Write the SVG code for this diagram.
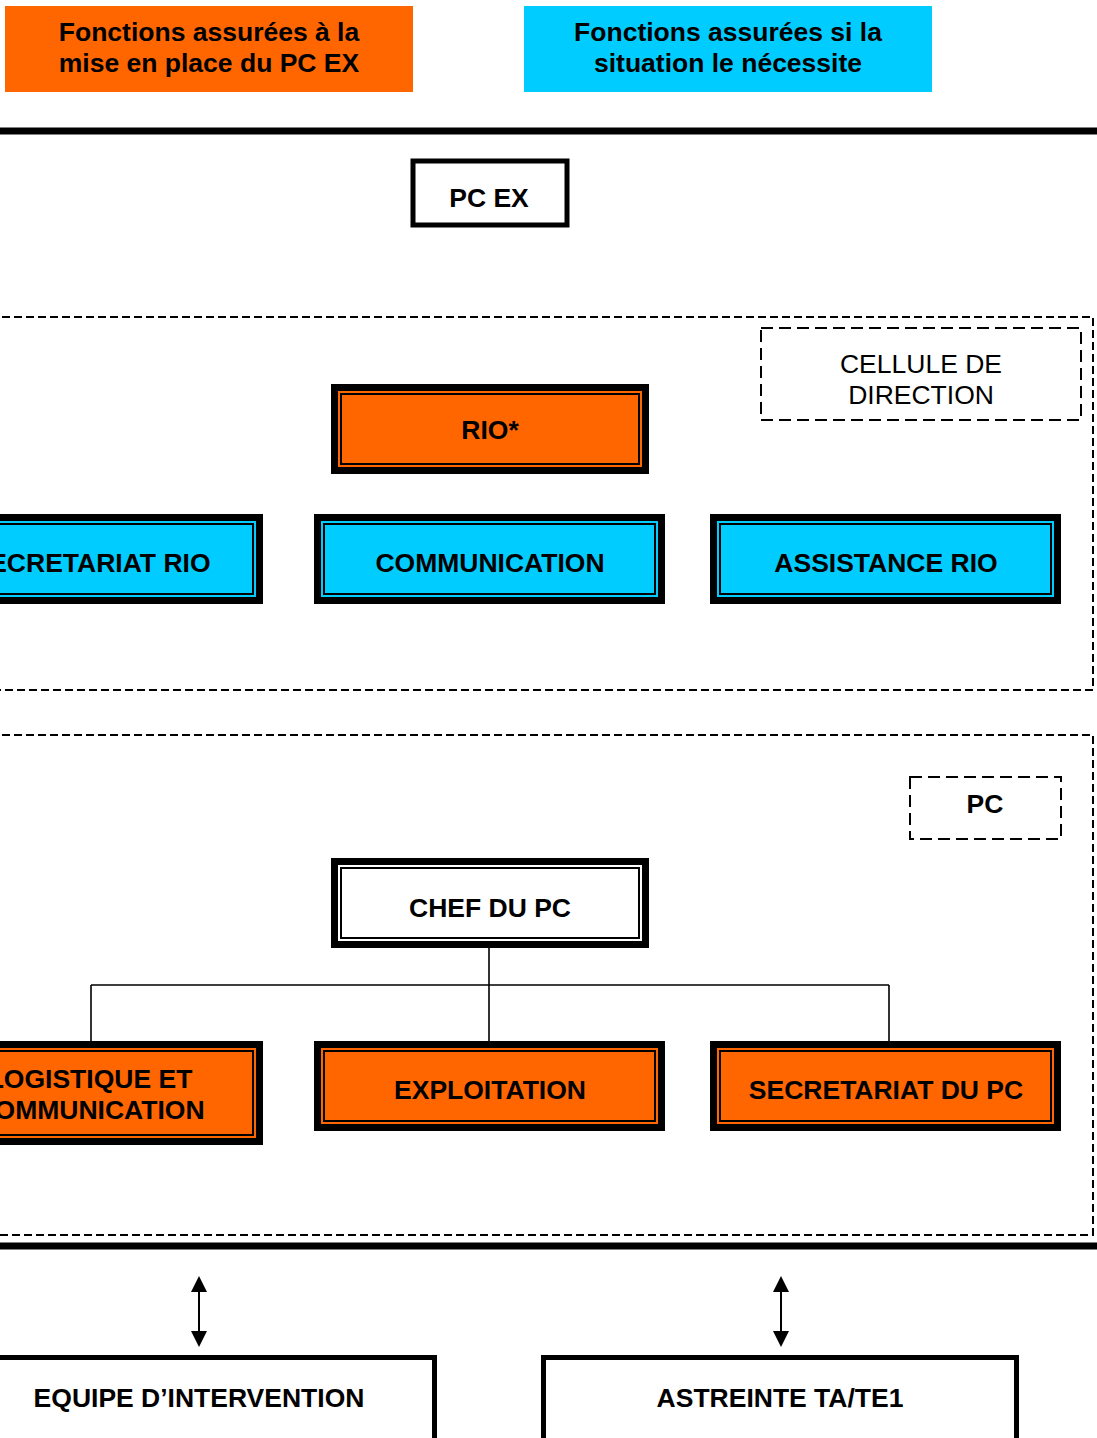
<svg xmlns="http://www.w3.org/2000/svg" width="1097" height="1438" viewBox="0 0 1097 1438">
<style>
text{font-family:"Liberation Sans",Arial,sans-serif;font-size:26.5px;fill:#000;text-anchor:middle}
.b{font-weight:bold}
.outer{stroke:#000;stroke-width:7}
.inner{fill:none;stroke:#000;stroke-width:2}
.org{fill:#FF6600}
.blu{fill:#00CCFF}
.wht{fill:#fff}
.dash{fill:none;stroke:#000;stroke-width:2;stroke-dasharray:8,4}
.dash2{fill:none;stroke:#000;stroke-width:2;stroke-dasharray:12,6}
.conn{fill:none;stroke:#000;stroke-width:1.6}
</style>
<defs>
<marker id="ah" viewBox="0 0 16 16" refX="0" refY="8" markerWidth="16" markerHeight="16" markerUnits="userSpaceOnUse" orient="auto-start-reverse">
<path d="M0,0 L16,8 L0,16 z" fill="#000"/>
</marker>
</defs>
<rect width="1097" height="1438" fill="#fff"/>

<g id="legend-orange">
<rect x="5" y="6" width="408" height="86" class="org"/>
<text x="209" y="41" class="b">Fonctions assurées à la</text>
<text x="209" y="72" class="b">mise en place du PC EX</text>
</g>
<g id="legend-blue">
<rect x="524" y="6" width="408" height="86" class="blu"/>
<text x="728" y="41" class="b">Fonctions assurées si la</text>
<text x="728" y="72" class="b">situation le nécessite</text>
</g>

<rect x="0" y="127.5" width="1097" height="7" fill="#000"/>
<rect x="0" y="1242.5" width="1097" height="7" fill="#000"/>

<g id="pcex">
<rect x="413" y="161" width="154" height="64" fill="#fff" stroke="#000" stroke-width="5"/>
<text x="489" y="207" class="b">PC EX</text>
</g>

<g id="region-direction">
<rect x="-10" y="317" width="1103" height="373" class="dash"/>
</g>
<g id="cellule">
<rect x="761" y="328" width="320" height="92" class="dash2"/>
<text x="921" y="373">CELLULE DE</text>
<text x="921" y="404">DIRECTION</text>
</g>

<g id="rio">
<rect x="334.5" y="387.5" width="311" height="83" class="outer org"/>
<rect x="341" y="394" width="298" height="70" class="inner"/>
<text x="490" y="439" class="b">RIO*</text>
</g>
<g id="secretariat-rio">
<rect x="-84.5" y="517.5" width="344" height="83" class="outer blu"/>
<rect x="-78" y="524" width="331" height="70" class="inner"/>
<text x="91" y="572" class="b">SECRETARIAT RIO</text>
</g>
<g id="communication">
<rect x="317.5" y="517.5" width="344" height="83" class="outer blu"/>
<rect x="324" y="524" width="331" height="70" class="inner"/>
<text x="490" y="572" class="b">COMMUNICATION</text>
</g>
<g id="assistance-rio">
<rect x="713.5" y="517.5" width="344" height="83" class="outer blu"/>
<rect x="720" y="524" width="331" height="70" class="inner"/>
<text x="886" y="572" class="b">ASSISTANCE RIO</text>
</g>

<g id="region-pc">
<rect x="-10" y="735" width="1103" height="500" class="dash"/>
</g>
<g id="pc-label">
<rect x="910" y="777" width="151" height="62" class="dash2"/>
<text x="985" y="813" class="b">PC</text>
</g>

<g id="connectors">
<path d="M489,948 V985 M91,985 H889 M91,985 V1041 M489,985 V1041 M889,985 V1041" class="conn"/>
<line x1="199" y1="1292" x2="199" y2="1331" stroke="#000" stroke-width="2" marker-start="url(#ah)" marker-end="url(#ah)"/>
<line x1="781" y1="1292" x2="781" y2="1331" stroke="#000" stroke-width="2" marker-start="url(#ah)" marker-end="url(#ah)"/>
</g>

<g id="chef-pc">
<rect x="334.5" y="861.5" width="311" height="83" class="outer wht"/>
<rect x="341" y="868" width="298" height="70" class="inner"/>
<text x="490" y="917" class="b">CHEF DU PC</text>
</g>
<g id="logistique">
<rect x="-84.5" y="1044.5" width="344" height="97" class="outer org"/>
<rect x="-78" y="1051" width="331" height="84" class="inner"/>
<text x="90" y="1088" class="b">LOGISTIQUE ET</text>
<text x="90" y="1119" class="b">COMMUNICATION</text>
</g>
<g id="exploitation">
<rect x="317.5" y="1044.5" width="344" height="83" class="outer org"/>
<rect x="324" y="1051" width="331" height="70" class="inner"/>
<text x="490" y="1099" class="b">EXPLOITATION</text>
</g>
<g id="secretariat-pc">
<rect x="713.5" y="1044.5" width="344" height="83" class="outer org"/>
<rect x="720" y="1051" width="331" height="70" class="inner"/>
<text x="886" y="1099" class="b">SECRETARIAT DU PC</text>
</g>

<g id="equipe">
<rect x="-50" y="1357.5" width="484.5" height="200" fill="#fff" stroke="#000" stroke-width="5"/>
<text x="199" y="1407" class="b">EQUIPE D’INTERVENTION</text>
</g>
<g id="astreinte">
<rect x="543.5" y="1357.5" width="473" height="200" fill="#fff" stroke="#000" stroke-width="5"/>
<text x="780" y="1407" class="b">ASTREINTE TA/TE1</text>
</g>
</svg>
